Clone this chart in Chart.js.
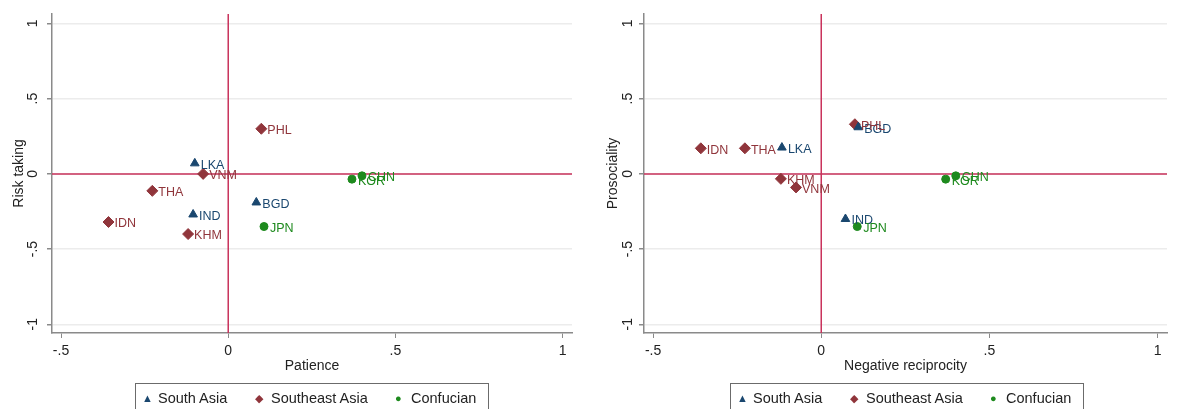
<!DOCTYPE html>
<html lang="en">
<head>
    <meta charset="UTF-8">
    <title>Patience, risk taking, prosociality and negative reciprocity</title>
    <script src="https://cdn.jsdelivr.net/npm/chart.js"></script>
    <style>
        body {
            margin: 0;
            padding: 0;
            background: #ffffff;
            font-family: 'Liberation Sans', Arial, sans-serif;
            width: 1182px;
            height: 409px;
            overflow: hidden;
            position: relative;
        }
        .panel {
            position: absolute;
            top: 0;
            height: 409px;
        }
        .legend {
            position: absolute;
            top: 383px;
            width: 354px;
            height: 32px;
            border: 1px solid #6b6b6b;
            box-sizing: border-box;
            font-size: 14.5px;
            color: #222;
        }
        .legend span.item {
            position: absolute;
            top: 6px;
            white-space: nowrap;
        }
        .legend span.sym {
            display: inline-block;
            width: 16px;
            font-size: 11px;
            position: relative;
            top: -1px;
        }
    </style>
</head>
<body>
    <div class="panel" style="left:0; width:590px;">
        <canvas id="leftChart" width="590" height="409"></canvas>
    </div>
    <div class="panel" style="left:590px; width:592px;">
        <canvas id="rightChart" width="592" height="409"></canvas>
    </div>

    <div class="legend" style="left:135px;">
        <span class="item" style="left:6px"><span class="sym" style="color:#1a476f">&#9650;</span>South Asia</span>
        <span class="item" style="left:119px"><span class="sym" style="color:#90353b">&#9670;</span>Southeast Asia</span>
        <span class="item" style="left:259px"><span class="sym" style="color:#1e8a1e">&#9679;</span>Confucian</span>
    </div>
    <div class="legend" style="left:730px;">
        <span class="item" style="left:6px"><span class="sym" style="color:#1a476f">&#9650;</span>South Asia</span>
        <span class="item" style="left:119px"><span class="sym" style="color:#90353b">&#9670;</span>Southeast Asia</span>
        <span class="item" style="left:259px"><span class="sym" style="color:#1e8a1e">&#9679;</span>Confucian</span>
    </div>

    <script>
        // Country codes per group
        const southAsiaCodes = ['LKA', 'IND', 'BGD'];
        const southeastAsiaCodes = ['PHL', 'VNM', 'THA', 'IDN', 'KHM'];
        const confucianCodes = ['JPN', 'KOR', 'CHN'];

        // Left panel: patience (x) vs risk taking (y)
        const southAsiaPatience = [-0.100, -0.105, 0.084];
        const southAsiaRisk = [0.070, -0.270, -0.190];
        const southeastAsiaPatience = [0.099, -0.075, -0.227, -0.358, -0.120];
        const southeastAsiaRisk = [0.300, 0.000, -0.113, -0.320, -0.400];
        const confucianPatience = [0.107, 0.370, 0.400];
        const confucianRisk = [-0.350, -0.035, -0.013];

        // Right panel: negative reciprocity (x) vs prosociality (y)
        const southAsiaNegRecip = [-0.117, 0.072, 0.110];
        const southAsiaProsocial = [0.175, -0.300, 0.310];
        const southeastAsiaNegRecip = [0.100, -0.075, -0.227, -0.358, -0.120];
        const southeastAsiaProsocial = [0.330, -0.090, 0.170, 0.170, -0.033];
        const confucianNegRecip = [0.107, 0.370, 0.400];
        const confucianProsocial = [-0.350, -0.035, -0.013];

        // Tick labels
        const xTicks = [-0.5, 0, 0.5, 1];
        const yTicks = [-1, -0.5, 0, 0.5, 1];

        const navy = '#1a476f';
        const maroon = '#90353b';
        const green = '#1e8a1e';
        const refLine = '#c9335c';
        const axisGrey = '#8a8a8a';
        const fontFamily = "'Liberation Sans', Arial, sans-serif";

        function fmt(v) {
            if (v === 0) return '0';
            return String(v).replace('0.', '.');
        }

        function points(xs, ys, codes) {
            return xs.map((x, i) => ({ x: x, y: ys[i], code: codes[i] }));
        }

        // reference lines at 0,0 plus rotated y tick labels and marker labels
        const extrasPlugin = {
            id: 'extras',
            beforeDatasetsDraw(chart) {
                const { ctx, chartArea, scales } = chart;
                const x0 = scales.x.getPixelForValue(0);
                const y0 = scales.y.getPixelForValue(0);
                ctx.save();
                ctx.strokeStyle = refLine;
                ctx.lineWidth = 1.5;
                ctx.beginPath();
                ctx.moveTo(x0, chartArea.top);
                ctx.lineTo(x0, chartArea.bottom);
                ctx.moveTo(chartArea.left, y0);
                ctx.lineTo(chartArea.right, y0);
                ctx.stroke();
                ctx.restore();
            },
            afterDatasetsDraw(chart) {
                const { ctx } = chart;
                ctx.save();
                ctx.font = '12.5px ' + fontFamily;
                ctx.textAlign = 'left';
                ctx.textBaseline = 'middle';
                chart.data.datasets.forEach((ds, di) => {
                    const meta = chart.getDatasetMeta(di);
                    ctx.fillStyle = ds.borderColor;
                    meta.data.forEach((el, i) => {
                        ctx.fillText(ds.data[i].code, el.x + 6, el.y + 2);
                    });
                });
                ctx.restore();
            },
            afterDraw(chart) {
                const { ctx, scales } = chart;
                const lx = chart.options.plugins.extras.labelX;
                ctx.save();
                ctx.font = '14px ' + fontFamily;
                ctx.fillStyle = '#222';
                ctx.textAlign = 'center';
                ctx.textBaseline = 'middle';
                yTicks.forEach(v => {
                    const py = scales.y.getPixelForValue(v);
                    ctx.save();
                    ctx.translate(lx, py);
                    ctx.rotate(-Math.PI / 2);
                    ctx.fillText(fmt(v), 0, 0);
                    ctx.restore();
                });
                ctx.restore();
            }
        };

        function makeChart(id, xTitle, yTitle, sets, axisW, padRight, labelX, yTitlePad) {
            const ctx = document.getElementById(id).getContext('2d');
            return new Chart(ctx, {
                type: 'scatter',
                data: {
                    datasets: [
                        {
                            label: 'South Asia',
                            data: sets[0],
                            pointStyle: 'triangle',
                            radius: 5,
                            backgroundColor: navy,
                            borderColor: navy
                        },
                        {
                            label: 'Southeast Asia',
                            data: sets[1],
                            pointStyle: 'rectRot',
                            radius: 5.5,
                            backgroundColor: maroon,
                            borderColor: maroon
                        },
                        {
                            label: 'Confucian',
                            data: sets[2],
                            pointStyle: 'circle',
                            radius: 4,
                            backgroundColor: green,
                            borderColor: green
                        }
                    ]
                },
                options: {
                    responsive: false,
                    animation: false,
                    layout: { padding: { top: 14, right: padRight, bottom: 34, left: 0 } },
                    plugins: {
                        legend: { display: false },
                        tooltip: { enabled: false },
                        extras: { labelX: labelX }
                    },
                    scales: {
                        x: {
                            type: 'linear',
                            min: -0.527,
                            max: 1.028,
                            afterBuildTicks: s => { s.ticks = xTicks.map(v => ({ value: v })); },
                            afterFit: s => { s.height = 42; },
                            grid: {
                                drawOnChartArea: false,
                                tickLength: 5,
                                tickColor: axisGrey
                            },
                            border: { color: axisGrey, width: 1.5 },
                            ticks: {
                                padding: 5,
                                color: '#222',
                                font: { size: 14, family: fontFamily },
                                callback: v => fmt(v)
                            },
                            title: {
                                display: true,
                                text: xTitle,
                                color: '#222',
                                padding: { top: 0, bottom: 0 },
                                font: { size: 14, family: fontFamily }
                            }
                        },
                        y: {
                            type: 'linear',
                            min: -1.058,
                            max: 1.063,
                            afterBuildTicks: s => { s.ticks = yTicks.map(v => ({ value: v })); },
                            afterFit: s => { s.width = axisW; },
                            grid: {
                                color: '#ececec',
                                lineWidth: 1.5,
                                tickLength: 5,
                                tickColor: axisGrey
                            },
                            border: { color: axisGrey, width: 1.5 },
                            ticks: { display: false },
                            title: {
                                display: true,
                                text: yTitle,
                                color: '#222',
                                padding: { top: yTitlePad, bottom: 0 },
                                font: { size: 14, family: fontFamily }
                            }
                        }
                    }
                },
                plugins: [extrasPlugin]
            });
        }

        makeChart('leftChart', 'Patience', 'Risk taking', [
            points(southAsiaPatience, southAsiaRisk, southAsiaCodes),
            points(southeastAsiaPatience, southeastAsiaRisk, southeastAsiaCodes),
            points(confucianPatience, confucianRisk, confucianCodes)
        ], 52, 18, 33, 11);

        makeChart('rightChart', 'Negative reciprocity', 'Prosociality', [
            points(southAsiaNegRecip, southAsiaProsocial, southAsiaCodes),
            points(southeastAsiaNegRecip, southeastAsiaProsocial, southeastAsiaCodes),
            points(confucianNegRecip, confucianProsocial, confucianCodes)
        ], 54, 15, 38, 15);
    </script>
</body>
</html>
